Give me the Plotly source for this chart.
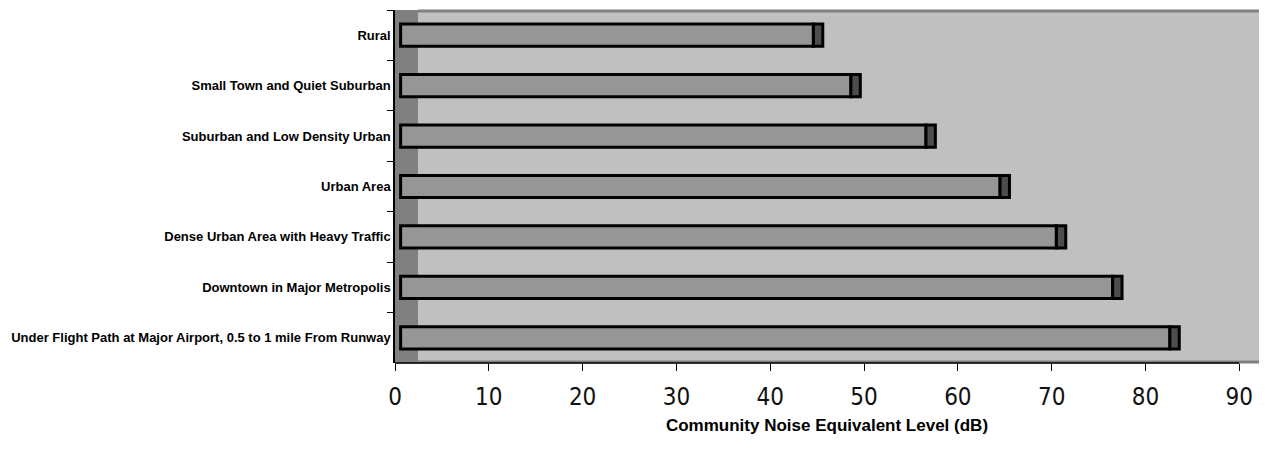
import numpy as np
import plotly.graph_objects as go

categories = [
    "Rural",
    "Small Town and Quiet Suburban",
    "Suburban and Low Density Urban",
    "Urban Area",
    "Dense Urban Area with Heavy Traffic",
    "Downtown in Major Metropolis",
    "Under Flight Path at Major Airport, 0.5 to 1 mile From Runway",
]
# front-face length of each bar (dB) and the 3-D side-face depth
front_len = [44.0, 48.0, 56.0, 63.9, 69.9, 75.9, 82.0]
side_len = [1.0, 1.0, 1.0, 1.0, 1.0, 1.0, 1.0]
bar_base = 0.6
tick_vals = [0, 10, 20, 30, 40, 50, 60, 70, 80, 90]

front_end = bar_base + np.array(front_len)

fig = go.Figure()
fig.add_trace(go.Bar(
    y=categories, x=front_len, base=bar_base, orientation="h",
    marker=dict(color="#969696", line=dict(color="#000000", width=3)),
    hoverinfo="x+y",
))
fig.add_trace(go.Bar(
    y=categories, x=side_len, base=front_end, orientation="h",
    marker=dict(color="#4d4d4d", line=dict(color="#000000", width=3)),
    hoverinfo="skip",
))

xmax = 92.1
shapes = [
    # left wall strip
    dict(type="rect", xref="x", yref="paper", x0=0, x1=2.45, y0=0, y1=1,
         fillcolor="#808080", line=dict(width=0), layer="below"),
    # top edge of back wall
    dict(type="line", xref="x", yref="paper", x0=2.45, x1=xmax, y0=0.997, y1=0.997,
         line=dict(color="#808080", width=3), layer="below"),
    # floor edge
    dict(type="line", xref="x", yref="paper", x0=0, x1=xmax, y0=0.003, y1=0.003,
         line=dict(color="#808080", width=3), layer="below"),
    # x axis line from 0 to 90
    dict(type="line", xref="x", yref="paper", x0=0, x1=90, y0=0, y1=0,
         line=dict(color="#000000", width=1.5)),
]

fig.update_layout(
    width=1265, height=464,
    margin=dict(l=395, r=6, t=10, b=101),
    paper_bgcolor="#ffffff",
    plot_bgcolor="#c0c0c0",
    barmode="overlay",
    bargap=0.56,
    showlegend=False,
    shapes=shapes,
    xaxis=dict(
        range=[0, xmax], tickvals=tick_vals, showgrid=False, zeroline=False,
        showline=False, ticks="outside", ticklen=7, tickcolor="#000000",
        automargin=False, ticklabelstandoff=5,
        tickfont=dict(family="DejaVu Sans Condensed, DejaVu Sans", size=24, color="#111111"),
        title=dict(text="Community Noise Equivalent Level (dB)", standoff=9,
                   font=dict(family="Liberation Sans", size=17,
                             color="#000000", weight="bold")),
    ),
    yaxis=dict(
        autorange="reversed", showgrid=False, zeroline=False,
        showline=True, linecolor="#000000", linewidth=1.5,
        ticks="outside", ticklen=6, tickcolor="#000000", tickson="boundaries",
        automargin=False,
        tickfont=dict(family="Liberation Sans", size=13,
                      color="#000000", weight="bold"),
    ),
)

fig.write_html("out.html")
